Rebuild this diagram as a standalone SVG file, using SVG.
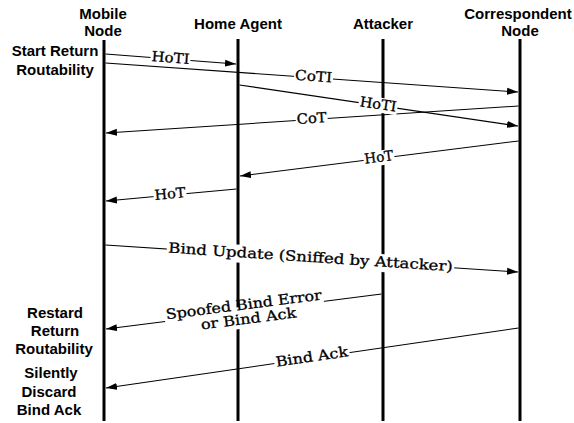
<svg xmlns="http://www.w3.org/2000/svg" width="574" height="423" viewBox="0 0 574 423">
<style>
.head{font-family:"Liberation Sans",Arial,sans-serif;font-weight:bold;font-size:15px;fill:#000;text-anchor:middle}
.life{stroke:#000;stroke-width:3;fill:none}
.msg{stroke:#000;stroke-width:1.1;fill:none;marker-end:url(#ah)}
.lbl{font-family:"DejaVu Serif","Liberation Serif",serif;font-size:14px;fill:#000;text-anchor:middle;stroke:#000;stroke-width:0.3}
.bg{fill:#fff;stroke:none}
</style>
<defs>
<marker id="ah" markerWidth="11" markerHeight="8" refX="11" refY="4" orient="auto" markerUnits="userSpaceOnUse">
<path d="M0,0.5 L11,4 L0,7.5 z" fill="#000"/>
</marker>
</defs>
<rect width="574" height="423" fill="#fff"/>

<g id="mobile-node">
<text class="head" x="103" y="19">Mobile</text>
<text class="head" x="103" y="36">Node</text>
<line class="life" x1="104" y1="40" x2="104" y2="421"/>
</g>
<g id="home-agent">
<text class="head" x="238" y="29">Home Agent</text>
<line class="life" x1="238" y1="39" x2="238" y2="421"/>
</g>
<g id="attacker">
<text class="head" x="383" y="29">Attacker</text>
<line class="life" x1="383" y1="39" x2="383" y2="421"/>
</g>
<g id="correspondent-node">
<text class="head" x="518" y="19">Correspondent</text>
<text class="head" x="520" y="36">Node</text>
<line class="life" x1="520" y1="39" x2="520" y2="421"/>
</g>

<g id="note-start">
<text class="head" x="55" y="56">Start Return</text>
<text class="head" x="55" y="75">Routability</text>
</g>
<g id="note-restart">
<text class="head" x="55" y="318">Restard</text>
<text class="head" x="55" y="336">Return</text>
<text class="head" x="54" y="354">Routability</text>
</g>
<g id="note-discard">
<text class="head" x="51" y="378">Silently</text>
<text class="head" x="49" y="397">Discard</text>
<text class="head" x="49" y="415">Bind Ack</text>
</g>

<g id="connectors">
<line class="msg" x1="105.5" y1="54" x2="236" y2="64"/>
<line class="msg" x1="105.5" y1="63" x2="518" y2="92"/>
<line class="msg" x1="239.5" y1="85" x2="518" y2="126"/>
<line class="msg" x1="518.5" y1="106" x2="106" y2="133"/>
<line class="msg" x1="518.5" y1="141" x2="240" y2="176"/>
<line class="msg" x1="236.5" y1="189" x2="106" y2="201"/>
<line class="msg" x1="105.5" y1="245" x2="518" y2="272"/>
<line class="msg" x1="381.5" y1="294" x2="106" y2="329"/>
<line class="msg" x1="518.5" y1="328" x2="106" y2="388"/>
</g>

<g id="labels">
<g transform="translate(170.5,59) rotate(4.4)"><rect class="bg" x="-20" y="-8" width="40" height="15"/><text class="lbl" y="3.5" textLength="38" lengthAdjust="spacingAndGlyphs">HoTI</text></g>
<g transform="translate(313.5,77.6) rotate(4.03)"><rect class="bg" x="-19.5" y="-8" width="39" height="15"/><text class="lbl" y="3.5" textLength="37" lengthAdjust="spacingAndGlyphs">CoTI</text></g>
<g transform="translate(378,105.4) rotate(8.36)"><rect class="bg" x="-19.5" y="-8" width="39" height="15"/><text class="lbl" y="3.5" textLength="37" lengthAdjust="spacingAndGlyphs">HoTI</text></g>
<g transform="translate(311.7,119.5) rotate(-3.75)"><rect class="bg" x="-16" y="-8" width="32" height="15"/><text class="lbl" y="3.5" textLength="30" lengthAdjust="spacingAndGlyphs">CoT</text></g>
<g transform="translate(379,158.5) rotate(-7.18)"><rect class="bg" x="-15.5" y="-8" width="31" height="15"/><text class="lbl" y="3.5" textLength="29" lengthAdjust="spacingAndGlyphs">HoT</text></g>
<g transform="translate(170,195.1) rotate(-5.2)"><rect class="bg" x="-16.5" y="-8" width="33" height="15"/><text class="lbl" y="3.5" textLength="31" lengthAdjust="spacingAndGlyphs">HoT</text></g>
<g transform="translate(310.5,258.4) rotate(3.75)"><rect class="bg" x="-144" y="-9" width="288" height="18"/><text class="lbl" y="3.5" textLength="285" lengthAdjust="spacingAndGlyphs">Bind Update (Sniffed by Attacker)</text></g>
<g transform="translate(244.5,311.4) rotate(-7.25)"><rect class="bg" x="-80" y="-5" width="160" height="7"/><rect class="bg" x="-48" y="2" width="99" height="15"/><text class="lbl" y="-2" textLength="157" lengthAdjust="spacingAndGlyphs">Spoofed Bind Error</text><text class="lbl" x="3" y="12.5" textLength="96" lengthAdjust="spacingAndGlyphs">or Bind Ack</text></g>
<g transform="translate(312,358) rotate(-8.29)"><rect class="bg" x="-38" y="-8" width="76" height="15"/><text class="lbl" y="3.5" textLength="73" lengthAdjust="spacingAndGlyphs">Bind Ack</text></g>
</g>
</svg>
